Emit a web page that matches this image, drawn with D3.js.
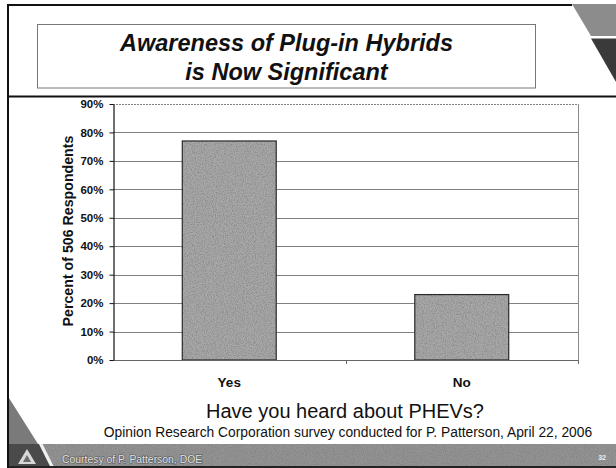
<!DOCTYPE html>
<html>
<head>
<meta charset="utf-8">
<script src="https://cdn.jsdelivr.net/npm/d3@7"></script>
<style>
  html, body { margin: 0; padding: 0; background: #fff; }
  svg { display: block; }
  text { font-family: "Liberation Sans", Arial, Helvetica, sans-serif; }
</style>
</head>
<body>
<svg id="slide" width="616" height="468"></svg>
<script>
// Survey result: "Have you heard about PHEVs?"
const categories = ["Yes", "No"];
const percentValues = [77, 23];
const yTickValues = [0, 10, 20, 30, 40, 50, 60, 70, 80, 90];

const titleLines = ["Awareness of Plug-in Hybrids", "is Now Significant"];
const yAxisTitle = "Percent of 506 Respondents";
const question = "Have you heard about PHEVs?";
const sourceNote = "Opinion Research Corporation survey conducted for P. Patterson, April 22, 2006";
const footerCredit = "Courtesy of P. Patterson, DOE";
const slideNumber = "32";

const svg = d3.select("#slide");

// halftone-like grain used on the shaded fills
const defs = svg.append("defs");
const grain = defs.append("filter").attr("id", "grain")
  .attr("x", 0).attr("y", 0).attr("width", 1).attr("height", 1);
grain.append("feTurbulence").attr("type", "fractalNoise")
  .attr("baseFrequency", 0.9).attr("numOctaves", 2).attr("seed", 4).attr("result", "noise");
grain.append("feColorMatrix").attr("in", "noise").attr("type", "matrix")
  .attr("values", "0 0 0 0 0.2  0 0 0 0 0.2  0 0 0 0 0.2  1.6 0 0 0 -0.62")
  .attr("result", "speckle");
grain.append("feComposite").attr("in", "speckle").attr("in2", "SourceAlpha").attr("operator", "in");

// ---- slide frame and decoration ----
const frame = svg.append("g");
frame.append("line").attr("x1", 8).attr("x2", 572).attr("y1", 5).attr("y2", 5)
  .attr("stroke", "#111").attr("stroke-width", 2);
frame.append("line").attr("x1", 8).attr("x2", 8).attr("y1", 4).attr("y2", 468)
  .attr("stroke", "#111").attr("stroke-width", 2);
frame.append("line").attr("x1", 8).attr("x2", 616).attr("y1", 96.5).attr("y2", 96.5)
  .attr("stroke", "#111").attr("stroke-width", 2);

// corner wedges, top right
frame.append("path").attr("d", "M572,4 L616,4 L616,36 L591,36 Z").attr("fill", "#8c8c8c");
frame.append("path").attr("d", "M591,38.5 L616,38.5 L616,82 Z").attr("fill", "#3a3a3a");

// wedge above the footer, bottom left
frame.append("path").attr("d", "M9,398 L9,444 L38,444 Z").attr("fill", "#7a7a7a");

// footer band
frame.append("rect").attr("x", 9).attr("y", 444).attr("width", 607).attr("height", 24).attr("fill", "#939393");
frame.append("rect").attr("x", 9).attr("y", 444).attr("width", 607).attr("height", 24)
  .attr("fill", "#000").attr("filter", "url(#grain)");
frame.append("path").attr("d", "M9,444 L39,444 L51,468 L9,468 Z").attr("fill", "#4a4a4a");
frame.append("path").attr("d", "M39,444 L42.5,444 L54.5,468 L51,468 Z").attr("fill", "#f2f2f2");
frame.append("rect").attr("x", 9).attr("y", 466).attr("width", 607).attr("height", 2).attr("fill", "#222");
// logo triangle
frame.append("path").attr("d", "M27,449 L36,464 L18,464 Z").attr("fill", "#d8d8d8");
frame.append("path").attr("d", "M27,455 L31,462 L23,462 Z").attr("fill", "#6a6a6a");

frame.append("text").attr("x", 62).attr("y", 462.5)
  .attr("font-size", 10.4).attr("fill", "#e4e4e4")
  .attr("stroke", "#555").attr("stroke-width", 1.2)
  .attr("paint-order", "stroke")
  .text(footerCredit);
frame.append("text").attr("x", 606).attr("y", 460).attr("text-anchor", "end")
  .attr("font-size", 7).attr("font-weight", "bold").attr("fill", "#eee")
  .text(slideNumber);

// ---- title box ----
svg.append("rect").attr("x", 37.5).attr("y", 24.5).attr("width", 498).attr("height", 63.5)
  .attr("fill", "#fff").attr("stroke", "#777").attr("stroke-width", 1);
svg.append("g").selectAll("text").data(titleLines).join("text")
  .attr("x", 286.5).attr("y", (d, i) => 50.5 + i * 29)
  .attr("text-anchor", "middle")
  .attr("font-size", 23.5).attr("font-weight", "bold").attr("font-style", "italic")
  .attr("fill", "#111")
  .text(d => d);

// ---- chart ----
const plot = { left: 113, right: 578, top: 104, bottom: 360 };

const x = d3.scaleBand()
  .domain(categories)
  .range([plot.left, plot.right])
  .paddingInner(0.596)
  .paddingOuter(0.298);

const y = d3.scaleLinear()
  .domain([0, 90])
  .range([plot.bottom, plot.top]);

const chart = svg.append("g");

// horizontal gridlines
chart.append("g").selectAll("line").data(yTickValues.filter(v => v > 0)).join("line")
  .attr("x1", plot.left).attr("x2", plot.right)
  .attr("y1", d => Math.round(y(d)) + 0.5).attr("y2", d => Math.round(y(d)) + 0.5)
  .attr("stroke", "#808080").attr("stroke-width", 1)
  .attr("stroke-dasharray", d => d === 90 ? "2,1" : null);

// right border of the plot area
chart.append("line")
  .attr("x1", plot.right + 0.5).attr("x2", plot.right + 0.5)
  .attr("y1", plot.top).attr("y2", plot.bottom)
  .attr("stroke", "#8a8a8a").attr("stroke-width", 1);

// bars, with a grain layer on top of each fill
const bars = chart.append("g").selectAll("g").data(categories).join("g");
bars.append("rect")
  .attr("x", d => x(d))
  .attr("y", (d, i) => y(percentValues[i]))
  .attr("width", x.bandwidth())
  .attr("height", (d, i) => y(0) - y(percentValues[i]))
  .attr("fill", "#a8a8a8");
bars.append("rect")
  .attr("x", d => x(d))
  .attr("y", (d, i) => y(percentValues[i]))
  .attr("width", x.bandwidth())
  .attr("height", (d, i) => y(0) - y(percentValues[i]))
  .attr("fill", "#000").attr("filter", "url(#grain)");
bars.append("rect")
  .attr("x", d => x(d))
  .attr("y", (d, i) => y(percentValues[i]))
  .attr("width", x.bandwidth())
  .attr("height", (d, i) => y(0) - y(percentValues[i]))
  .attr("fill", "none")
  .attr("stroke", "#2a2a2a").attr("stroke-width", 1.2);

// category axis
const xAxis = chart.append("g");
xAxis.append("line")
  .attr("x1", plot.left).attr("x2", plot.right + 1)
  .attr("y1", plot.bottom + 0.5).attr("y2", plot.bottom + 0.5)
  .attr("stroke", "#666").attr("stroke-width", 1.2);
const boundaries = categories.map(c => x(c) - x.step() * x.paddingInner() / 2)
  .concat([plot.right]);
xAxis.selectAll("line.tick").data(boundaries.slice(1)).join("line")
  .attr("class", "tick")
  .attr("x1", d => Math.round(d) + 0.5).attr("x2", d => Math.round(d) + 0.5)
  .attr("y1", plot.bottom).attr("y2", plot.bottom + 4)
  .attr("stroke", "#666");
xAxis.selectAll("text").data(categories).join("text")
  .attr("x", d => x(d) + x.bandwidth() / 2)
  .attr("y", 387)
  .attr("text-anchor", "middle")
  .attr("font-size", 13.5).attr("font-weight", "bold").attr("fill", "#111")
  .text(d => d);

// value axis
const yAxis = chart.append("g")
  .attr("transform", `translate(${plot.left + 0.5},0)`)
  .call(d3.axisLeft(y).tickValues(yTickValues).tickFormat(d => d + "%")
    .tickSize(4).tickSizeOuter(0).tickPadding(6));
yAxis.select(".domain").attr("stroke", "#111").attr("stroke-width", 1.2);
yAxis.selectAll(".tick line").attr("stroke", "#111");
yAxis.selectAll(".tick text")
  .attr("font-family", "'Liberation Sans', Arial, sans-serif")
  .attr("font-size", 11.5).attr("font-weight", "bold").attr("fill", "#111");

// value axis title
svg.append("text")
  .attr("transform", "translate(73,231) rotate(-90)")
  .attr("text-anchor", "middle")
  .attr("font-size", 14.2).attr("font-weight", "bold").attr("fill", "#111")
  .text(yAxisTitle);

// question and source beneath the chart
svg.append("text").attr("x", 345).attr("y", 418).attr("text-anchor", "middle")
  .attr("font-size", 20).attr("fill", "#111").text(question);
svg.append("text").attr("x", 348).attr("y", 437).attr("text-anchor", "middle")
  .attr("font-size", 13.8).attr("fill", "#111").text(sourceNote);
</script>
</body>
</html>
